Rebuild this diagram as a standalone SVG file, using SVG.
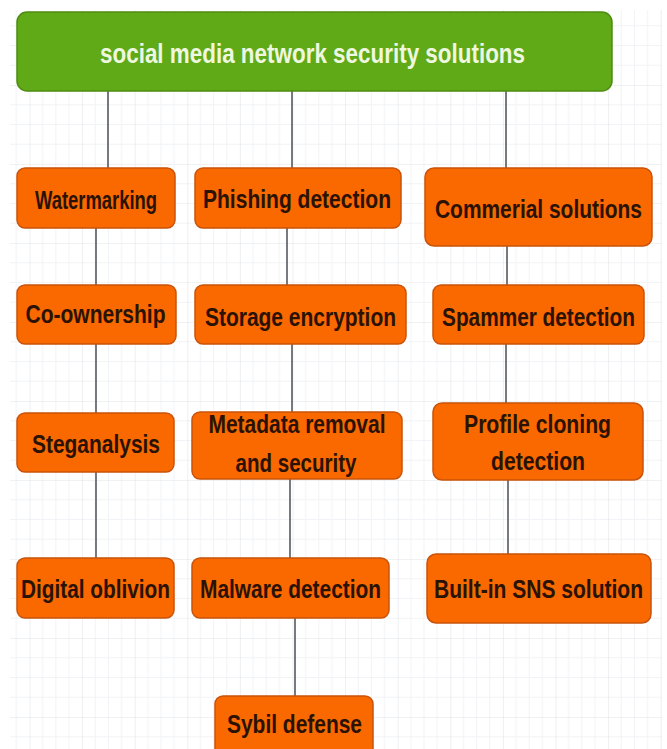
<svg xmlns="http://www.w3.org/2000/svg" width="667" height="749" viewBox="0 0 667 749">
  <defs>
    <!-- background drawing grid: major cells with quarter subdivisions -->
    <pattern id="grid" patternUnits="userSpaceOnUse" x="29.5" y="6" width="52.6" height="79">
      <path d="M13.15 0V79M26.3 0V79M39.45 0V79M0 19.75H52.6M0 39.5H52.6M0 59.25H52.6" stroke="#f1f3f6" stroke-width="1" fill="none"/>
      <path d="M0 0V79M0 0H52.6" stroke="#e2e4e8" stroke-width="1.2" fill="none"/>
    </pattern>
    <style>
      .node rect { fill: #fa6800; stroke: #c9530a; stroke-width: 1.5; }
      .node text { font-family: "Liberation Sans", Arial, sans-serif; font-weight: bold; font-size: 26px; fill: #2a1205; text-anchor: middle; }
      .root rect { fill: #60a917; stroke: #4e8c12; stroke-width: 1.5; }
      .root text { font-family: "Liberation Sans", Arial, sans-serif; font-weight: bold; font-size: 27px; fill: #eef7e0; text-anchor: middle; }
      .edges line { stroke: #555a60; stroke-width: 1.6; }
    </style>
  </defs>

  <rect x="0" y="0" width="667" height="749" fill="#ffffff"/>
  <rect x="10" y="10" width="652" height="739" fill="url(#grid)"/>

  <!-- connectors -->
  <g id="edges" class="edges">
    <line x1="108" y1="90" x2="108" y2="168"/>
    <line x1="292" y1="90" x2="292" y2="168"/>
    <line x1="506" y1="90" x2="506" y2="168"/>
    <line x1="96" y1="228" x2="96" y2="285"/>
    <line x1="96" y1="344" x2="96" y2="413"/>
    <line x1="96" y1="472" x2="96" y2="558"/>
    <line x1="287" y1="228" x2="287" y2="285"/>
    <line x1="292" y1="344" x2="292" y2="412"/>
    <line x1="290" y1="479" x2="290" y2="558"/>
    <line x1="295" y1="618" x2="295" y2="696"/>
    <line x1="507" y1="246" x2="507" y2="285"/>
    <line x1="506" y1="344" x2="506" y2="403"/>
    <line x1="508" y1="480" x2="508" y2="554"/>
  </g>

  <!-- root; labels use a condensed horizontal scale -->
  <g id="root" class="root">
    <rect x="17" y="12" width="595" height="79" rx="10"/>
    <text transform="translate(312.5 63) scale(0.75 1)" textLength="566.7" lengthAdjust="spacingAndGlyphs">social media network security solutions</text>
  </g>

  <!-- left column -->
  <g id="watermarking" class="node">
    <rect x="17" y="168" width="158" height="60" rx="8"/>
    <text transform="translate(96 209) scale(0.75 1)" style="font-size:25px" textLength="162.7" lengthAdjust="spacingAndGlyphs">Watermarking</text>
  </g>
  <g id="co-ownership" class="node">
    <rect x="17" y="285" width="159" height="59" rx="8"/>
    <text transform="translate(95.5 323) scale(0.75 1)" textLength="186.7" lengthAdjust="spacingAndGlyphs">Co-ownership</text>
  </g>
  <g id="steganalysis" class="node">
    <rect x="17" y="413" width="157" height="59" rx="8"/>
    <text transform="translate(96 453) scale(0.75 1)" textLength="170.7" lengthAdjust="spacingAndGlyphs">Steganalysis</text>
  </g>
  <g id="digital-oblivion" class="node">
    <rect x="17" y="558" width="157" height="60" rx="8"/>
    <text transform="translate(95.5 598) scale(0.75 1)" textLength="198.7" lengthAdjust="spacingAndGlyphs">Digital oblivion</text>
  </g>

  <!-- middle column -->
  <g id="phishing-detection" class="node">
    <rect x="195" y="168" width="206" height="60" rx="8"/>
    <text transform="translate(297 208) scale(0.75 1)" textLength="250.7" lengthAdjust="spacingAndGlyphs">Phishing detection</text>
  </g>
  <g id="storage-encryption" class="node">
    <rect x="195" y="285" width="211" height="59" rx="8"/>
    <text transform="translate(300.5 326) scale(0.75 1)" textLength="254.7" lengthAdjust="spacingAndGlyphs">Storage encryption</text>
  </g>
  <g id="metadata-removal" class="node">
    <rect x="192" y="412" width="210" height="67" rx="8"/>
    <text transform="translate(297 433) scale(0.75 1)" textLength="236" lengthAdjust="spacingAndGlyphs">Metadata removal</text>
    <text transform="translate(296 472) scale(0.75 1)" textLength="161.3" lengthAdjust="spacingAndGlyphs">and security</text>
  </g>
  <g id="malware-detection" class="node">
    <rect x="192" y="558" width="197" height="60" rx="8"/>
    <text transform="translate(290.5 598) scale(0.75 1)" textLength="241.3" lengthAdjust="spacingAndGlyphs">Malware detection</text>
  </g>
  <g id="sybil-defense" class="node">
    <rect x="215" y="696" width="158" height="70" rx="8"/>
    <text transform="translate(294.5 733) scale(0.75 1)" textLength="180" lengthAdjust="spacingAndGlyphs">Sybil defense</text>
  </g>

  <!-- right column -->
  <g id="commercial-solutions" class="node">
    <rect x="425" y="168" width="227" height="78" rx="9"/>
    <text transform="translate(538.5 218) scale(0.75 1)" textLength="276" lengthAdjust="spacingAndGlyphs">Commerial solutions</text>
  </g>
  <g id="spammer-detection" class="node">
    <rect x="433" y="285" width="211" height="59" rx="8"/>
    <text transform="translate(538.5 326) scale(0.75 1)" textLength="257.3" lengthAdjust="spacingAndGlyphs">Spammer detection</text>
  </g>
  <g id="profile-cloning" class="node">
    <rect x="433" y="403" width="210" height="77" rx="9"/>
    <text transform="translate(537.5 433) scale(0.75 1)" textLength="196" lengthAdjust="spacingAndGlyphs">Profile cloning</text>
    <text transform="translate(538 470) scale(0.75 1)" textLength="125.3" lengthAdjust="spacingAndGlyphs">detection</text>
  </g>
  <g id="built-in-sns" class="node">
    <rect x="427" y="554" width="224" height="69" rx="9"/>
    <text transform="translate(538.5 598) scale(0.75 1)" textLength="278.7" lengthAdjust="spacingAndGlyphs">Built-in SNS solution</text>
  </g>
</svg>
